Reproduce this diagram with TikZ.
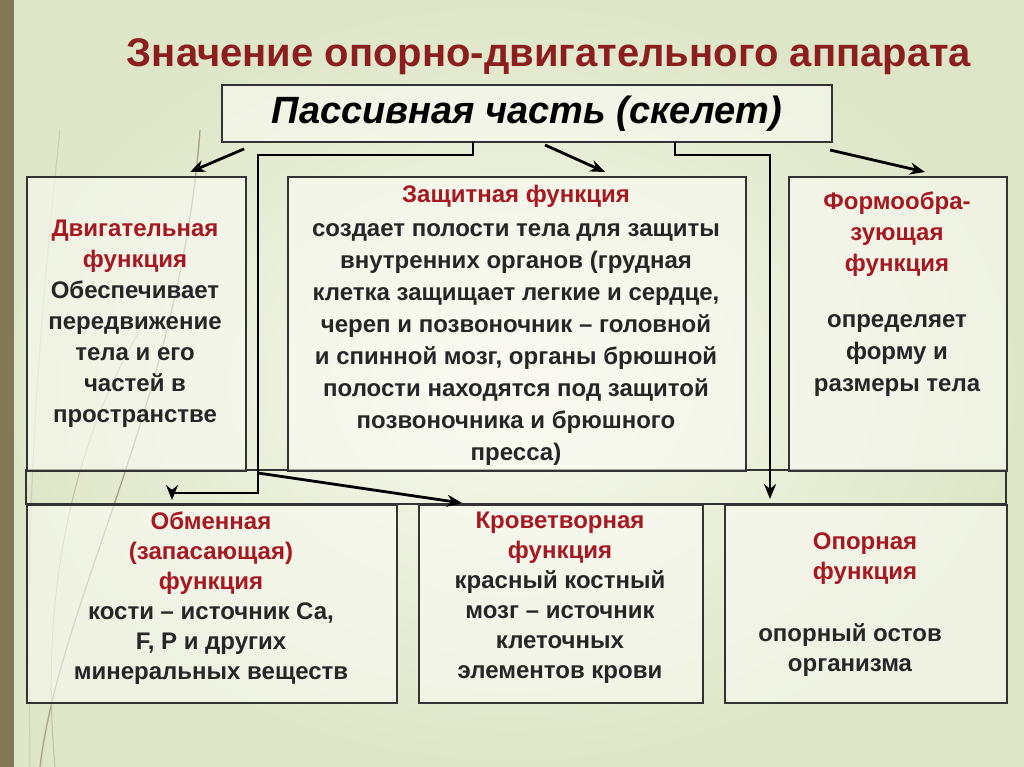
\documentclass[tikz,border=0pt]{standalone}
\usepackage{fontspec}
\setmainfont{Liberation Sans}
\usetikzlibrary{arrows.meta,calc}
\definecolor{redt}{RGB}{165,25,35}
\definecolor{titc}{RGB}{140,30,30}
\definecolor{bgA}{RGB}{248,249,238}
\definecolor{bgB}{RGB}{222,230,200}
\definecolor{olive}{RGB}{130,120,85}
\begin{document}
\begin{tikzpicture}[x=1pt,y=-1pt,
  box/.style={draw=black!80,line width=1.8pt,fill=white!40!bgA,fill opacity=0.6,text opacity=1},
  txt/.style={font=\bfseries\fontsize{24}{31}\selectfont,align=center,text=black!85},
  conn/.style={line width=2.8pt},
  arr/.style={line width=2.8pt,-{Stealth[length=15pt,width=12pt]}}]
\useasboundingbox (0,0) rectangle (1024,767);
\shade[inner color=bgA,outer color=bgB] (0,0) rectangle (1024,767);
\fill[olive] (0,0) rectangle (14,767);
\draw[olive!70,line width=1.3pt] (40,767) .. controls (60,600) and (180,400) .. (200,130);
\draw[olive!50,line width=1pt] (55,767) .. controls (40,600) and (70,450) .. (140,330);
\draw[olive!40,line width=1pt] (30,767) .. controls (30,650) and (20,500) .. (60,130);
\node[font=\bfseries\fontsize{40}{46}\selectfont,text=titc] (title) at (549,57) {Значение опорно-двигательного аппарата};
\node[box,minimum width=610pt,minimum height=57pt,font=\bfseries\itshape\fontsize{38}{42}\selectfont] (top) at (527,113.5) {Пассивная часть (скелет)};
\draw[box,fill=none] (26,470) rectangle (1006,504);
\node[box,minimum width=219pt,minimum height=294pt,anchor=north west] (b1) at (26,176) {};
\node[box,minimum width=458pt,minimum height=294pt,anchor=north west] (b2) at (287,176) {};
\node[box,minimum width=218pt,minimum height=294pt,anchor=north west] (b3) at (788,176) {};
\node[box,minimum width=370pt,minimum height=198pt,anchor=north west] (b4) at (26,504) {};
\node[box,minimum width=284pt,minimum height=198pt,anchor=north west] (b5) at (418,504) {};
\node[box,minimum width=282pt,minimum height=198pt,anchor=north west] (b6) at (724,504) {};
\node[txt,anchor=north] at (135,216) {\textcolor{redt}{Двигательная}\\\textcolor{redt}{функция}\\Обеспечивает\\передвижение\\тела и его\\частей в\\пространстве};
\node[txt,anchor=north] at (516,182) {\textcolor{redt}{Защитная функция}};
\node[txt,anchor=north,font=\bfseries\fontsize{24}{32}\selectfont] at (516,220) {создает полости тела для защиты\\внутренних органов (грудная\\клетка защищает легкие и сердце,\\череп и позвоночник – головной\\и спинной мозг, органы брюшной\\полости находятся под защитой\\позвоночника и брюшного\\пресса)};
\node[txt,anchor=north] at (897,188) {\textcolor{redt}{Формообра-}\\\textcolor{redt}{зующая}\\\textcolor{redt}{функция}};
\node[txt,anchor=north,font=\bfseries\fontsize{24}{32}\selectfont] at (897,311) {определяет\\форму и\\размеры тела};
\node[txt,anchor=north,font=\bfseries\fontsize{24}{30}\selectfont] at (211,508) {\textcolor{redt}{Обменная}\\\textcolor{redt}{(запасающая)}\\\textcolor{redt}{функция}\\кости – источник Са,\\F, P и других\\минеральных веществ};
\node[txt,anchor=north,font=\bfseries\fontsize{24}{30}\selectfont] at (560,508) {\textcolor{redt}{Кроветворная}\\\textcolor{redt}{функция}\\красный костный\\мозг – источник\\клеточных\\элементов крови};
\node[txt,anchor=north,font=\bfseries\fontsize{24}{30}\selectfont] at (865,529) {\textcolor{redt}{Опорная}\\\textcolor{redt}{функция}};
\node[txt,anchor=north,font=\bfseries\fontsize{24}{30}\selectfont] at (850,620) {опорный остов\\организма};
\coordinate (j) at (258,473);
\draw[arr] ($(top.south west)+(23,6)$) -- (190,172);
\draw[arr] (545,145) -- (605,172);
\draw[arr] (830,150) -- (925,172);
\draw[conn] (473,142) |- (258,155) -- (258,493) -- (172,493);
\draw[arr] (172,492) -- (172,500);
\draw[arr] (j) -- (462,503);
\draw[conn] (675,142) |- (770,155) -- (770,490);
\draw[arr] (770,488) -- (770,499);
\end{tikzpicture}
\end{document}
